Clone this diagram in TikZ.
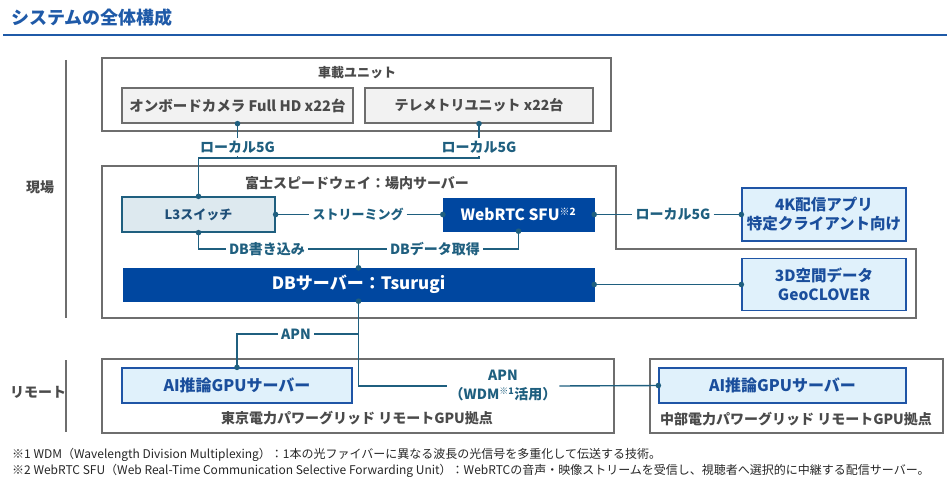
\documentclass[tikz,border=0pt]{standalone}
\usepackage{fontspec}
\setmainfont{Noto Sans CJK JP}
\definecolor{titleblue}{HTML}{1F5AA8}
\definecolor{conn}{HTML}{1F5F7F}
\definecolor{darkbox}{HTML}{0047A0}
\definecolor{lightfill}{HTML}{E0F1FB}
\definecolor{lightedge}{HTML}{1F55A6}
\definecolor{lighttext}{HTML}{1A4E9C}
\definecolor{boxgray}{HTML}{6E6E6E}
\definecolor{txtgray}{HTML}{4A4A4A}
\definecolor{l3fill}{HTML}{DDE9EF}
\definecolor{l3text}{HTML}{1F4F78}
\begin{document}
\begin{tikzpicture}[x=1pt,y=-1pt,
  outerbox/.style={draw=boxgray,line width=1.3pt},
  graylbl/.style={text=txtgray,font=\fontsize{14}{16}\selectfont\bfseries,inner sep=0pt},
  devbox/.style={draw=boxgray,line width=1.3pt,fill=black!5,text=txtgray,font=\fontsize{14}{16}\selectfont\bfseries,inner sep=0pt},
  darkbox/.style={draw=darkbox,fill=darkbox,text=white,font=\fontsize{15.5}{17}\selectfont\bfseries,inner sep=0pt},
  lightbox/.style={draw=lightedge,line width=1.3pt,fill=lightfill,text=lighttext,font=\fontsize{15.5}{19}\selectfont\bfseries,inner sep=0pt,align=center},
  l3box/.style={draw=conn,line width=1.3pt,fill=l3fill,text=l3text,font=\fontsize{13}{15}\selectfont\bfseries,inner sep=0pt},
  conlbl/.style={text=conn,font=\fontsize{14}{16}\selectfont\bfseries,inner sep=3pt,align=center},
  wire/.style={draw=conn,line width=1.4pt},
  dot/.style={fill=conn,draw=none},
  fnote/.style={anchor=west,inner sep=0pt,font=\fontsize{12}{13}\selectfont,text=black!85}
]
\useasboundingbox (0,0) rectangle (950,487);
% title
\node[anchor=west,text=titleblue,font=\fontsize{18}{20}\selectfont\bfseries,inner sep=0pt] (title) at (11,18) {システムの全体構成};
\draw[titleblue,line width=2pt] (3,35) -- (947,35);
% left side labels
\node[graylbl] (genba) at (40,187) {現場};
\node[graylbl] (remote) at (38,392) {リモート};
\draw[boxgray,line width=1.3pt] (66,60) -- (66,318);
\draw[boxgray,line width=1.3pt] (66,360) -- (66,432);
% vehicle unit
\draw[outerbox] (102,58) rectangle (611,131);
\node[graylbl,font=\fontsize{13}{15}\selectfont\bfseries] (vtitle) at (357,73) {車載ユニット};
\node[devbox,minimum width=231,minimum height=35,font=\fontsize{14.5}{16}\selectfont\bfseries] (cam) at (237.5,105.5) {オンボードカメラ Full HD x22台};
\node[devbox,minimum width=228,minimum height=35] (tele) at (479,105.5) {テレメトリユニット x22台};
% field server box (L-shaped)
\draw[outerbox] (102,166) -- (616,166) -- (616,249) -- (916,249) -- (916,318) -- (102,318) -- cycle;
\node[graylbl] (ftitle) at (357,183) {富士スピードウェイ：場内サーバー};
\node[l3box,minimum width=153,minimum height=35] (l3) at (198.5,214.5) {L3スイッチ};
\node[darkbox,minimum width=151,minimum height=33] (sfu) at (518.5,214.5) {WebRTC SFU\textsuperscript{\fontsize{10}{10}\selectfont ※2}};
\node[darkbox,minimum width=471,minimum height=33,font=\fontsize{17}{19}\selectfont\bfseries] (db) at (358.5,284.5) {DBサーバー：Tsurugi};
\node[lightbox,minimum width=164,minimum height=53] (k4) at (824,214.5) {4K配信アプリ\\特定クライアント向け};
\node[lightbox,minimum width=164,minimum height=52] (g3d) at (824,284.5) {3D空間データ\\GeoCLOVER};
% remote boxes
\draw[outerbox] (102,359) rectangle (614,433);
\node[graylbl] (ttitle) at (357,418) {東京電力パワーグリッド リモートGPU拠点};
\node[lightbox,minimum width=230,minimum height=35,font=\fontsize{16}{18}\selectfont\bfseries] (ait) at (237,385.5) {AI推論GPUサーバー};
\draw[outerbox] (650,359) rectangle (943,433);
\node[graylbl] (ctitle) at (796,419) {中部電力パワーグリッド リモートGPU拠点};
\node[lightbox,minimum width=247,minimum height=35,font=\fontsize{16}{18}\selectfont\bfseries] (aic) at (782.5,385.5) {AI推論GPUサーバー};
% connector labels
\node[conlbl] (g1) at (237.5,147) {ローカル5G};
\node[conlbl] (g2) at (479,147) {ローカル5G};
\node[conlbl,font=\fontsize{13}{15}\selectfont\bfseries] (strm) at (358,214.5) {ストリーミング};
\node[conlbl] (g3) at (673,214.5) {ローカル5G};
\node[conlbl] (dbw) at (267,249) {DB書き込み};
\node[conlbl] (dbr) at (435,249) {DBデータ取得};
\node[conlbl] (apn1) at (296,334) {APN};
\node[conlbl,font=\fontsize{14}{19}\selectfont\bfseries] (apn2) at (503,386) {APN\\（WDM\textsuperscript{\fontsize{9}{9}\selectfont ※1}活用）};
\coordinate (jtop) at (198.5,158);
\coordinate (jdb) at (358.5,249);
\coordinate (japn) at (358.5,334);
\coordinate (jwdm) at (358.5,386);
% wires
\draw[wire] (cam.south) -- (g1.north);
\draw[wire] (tele.south) -- (g2.north);
\draw[wire] (g2.south) -- (g2.south |- jtop) -- (jtop) -- (l3.north);
\draw[wire] (g1.south) -- (g1.south |- jtop);
\draw[wire] (l3.east) -- (strm.west);
\draw[wire] (strm.east) -- (sfu.west);
\draw[wire] (sfu.east) -- (g3.west);
\draw[wire] (g3.east) -- (k4.west);
\draw[wire] (l3.south) -- (l3.south |- dbw) -- (dbw.west);
\draw[wire] (dbw.east) -- (jdb) -- (dbr.west);
\draw[wire] (dbr.east) -- (dbr.east -| sfu.south) -- (sfu.south);
\draw[wire] (jdb) -- (db.north);
\draw[wire] (db.east) -- (g3d.west);
\draw[wire] (db.south) -- (jwdm) -- (apn2.west |- jwdm);
\draw[wire] (apn2.east |- jwdm) -- (aic.west);
\draw[wire] (japn) -- (apn1.east);
\draw[wire] (apn1.west) -- (apn1.west -| ait.north) -- (ait.north);
% dots
\foreach \p in {cam.south,tele.south,l3.north,l3.east,l3.south,sfu.west,sfu.east,sfu.south,db.north,db.south,db.east,k4.west,g3d.west,ait.north,aic.west}
  \fill[dot] (\p) circle (2.8);
% footnotes
\node[fnote] (fn1) at (12,455) {※1 WDM（Wavelength Division Multiplexing）：1本の光ファイバーに異なる波長の光信号を多重化して伝送する技術。};
\node[fnote] (fn2) at (12,471) {※2 WebRTC SFU（Web Real-Time Communication Selective Forwarding Unit）：WebRTCの音声・映像ストリームを受信し、視聴者へ選択的に中継する配信サーバー。};
\end{tikzpicture}
\end{document}
